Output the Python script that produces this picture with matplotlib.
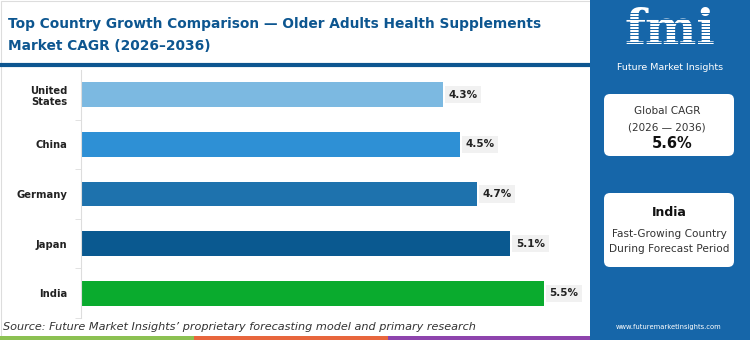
import matplotlib.pyplot as plt
from matplotlib.patches import FancyBboxPatch, Rectangle
import numpy as np

# data
countries = ['United\nStates', 'China', 'Germany', 'Japan', 'India']
cagr = [4.3, 4.5, 4.7, 5.1, 5.5]
bar_colors = ['#7cb9e1', '#2e90d5', '#1e72ad', '#0a5990', '#0aab2e']
global_cagr = '5.6%'
top_country = 'India'

W, H = 750, 340
navy = '#0d5690'
panel = '#1666a9'

fig = plt.figure(figsize=(W / 100, H / 100), dpi=100)
fig.patch.set_facecolor('white')

# overlay in pixel coords for the frame, panel and boxes
bg = fig.add_axes([0, 0, 1, 1], zorder=0)
bg.set_xlim(0, W)
bg.set_ylim(H, 0)
bg.axis('off')

bg.add_patch(Rectangle((0.5, 0.5), 590, 338, facecolor='white', edgecolor='#dddddd', lw=0.8))
bg.plot([0, 590], [65, 65], color=navy, lw=3, solid_capstyle='butt')
bg.add_patch(Rectangle((590, 0), W - 590, H, facecolor=panel, edgecolor='none'))

# bottom colour strip
bg.add_patch(Rectangle((0, 336), 194, 4, facecolor='#8cc152', edgecolor='none'))
bg.add_patch(Rectangle((194, 336), 194, 4, facecolor='#e8663d', edgecolor='none'))
bg.add_patch(Rectangle((388, 336), 202, 4, facecolor='#8e44ad', edgecolor='none'))

bg.text(8, 24, 'Top Country Growth Comparison \u2014 Older Adults Health Supplements',
        fontsize=9.9, fontweight='bold', color=navy, va='center', ha='left')
bg.text(8, 46, 'Market CAGR (2026\u20132036)',
        fontsize=9.9, fontweight='bold', color=navy, va='center', ha='left')

bg.text(3, 327, 'Source: Future Market Insights\u2019 proprietary forecasting model and primary research',
        fontsize=8.1, style='italic', color='#333333', va='center', ha='left')

# logo
bg.text(670, 31, 'fmi', fontsize=35, fontweight='bold', family='DejaVu Serif',
        color='white', ha='center', va='center')
for yy in np.arange(13, 52, 3.2):
    bg.plot([610, 730], [yy, yy], color=panel, lw=0.7, zorder=5)
bg.text(670, 67, 'Future Market Insights', fontsize=6.8, color='white', ha='center', va='center')

# info boxes
for y0, h in [(94, 62), (193, 74)]:
    bg.add_patch(FancyBboxPatch((604, y0), 130, h, boxstyle='round,pad=0,rounding_size=6',
                                facecolor='white', edgecolor='none', zorder=6))
bg.text(667, 111, 'Global CAGR', fontsize=7.5, color='#333333', ha='center', va='center', zorder=7)
bg.text(667, 127, '(2026 \u2014 2036)', fontsize=7.5, color='#333333', ha='center', va='center', zorder=7)
bg.text(672, 143, global_cagr, fontsize=10.5, fontweight='bold', color='#111111',
        ha='center', va='center', zorder=7)
bg.text(669, 212, top_country, fontsize=9, fontweight='bold', color='#111111',
        ha='center', va='center', zorder=7)
bg.text(669, 234, 'Fast-Growing Country', fontsize=7.6, color='#333333', ha='center', va='center', zorder=7)
bg.text(669, 249, 'During Forecast Period', fontsize=7.6, color='#333333', ha='center', va='center', zorder=7)
bg.text(669, 327, 'www.futuremarketinsights.com', fontsize=4.9, color='white', ha='center', va='center')

# bar chart
ax = fig.add_axes([81 / W, (H - 318) / H, 499 / W, 248 / H], zorder=2)
ax.patch.set_alpha(0)
y = np.arange(len(countries))
ax.barh(y, cagr, height=0.5, color=bar_colors)
ax.set_xlim(0, 499 / 84.2)
ax.set_ylim(len(countries) - 0.5, -0.5)
ax.set_yticks(y)
ax.set_yticklabels(countries, fontsize=7.2, fontweight='bold', color='#222222')
ax.tick_params(axis='y', length=0, pad=10)
ax.set_yticks(np.arange(len(countries)) + 0.5, minor=True)
ax.tick_params(axis='y', which='minor', length=4, color='#dddddd')
ax.set_xticks([])
for s in ['top', 'right', 'bottom']:
    ax.spines[s].set_visible(False)
ax.spines['left'].set_color('#dddddd')

for yi, v in zip(y, cagr):
    ax.annotate(f'{v}%', (v, yi), xytext=(4, 0), textcoords='offset points',
                ha='left', va='center', fontsize=7.5, fontweight='bold', color='#222222',
                bbox=dict(boxstyle='square,pad=0.35', facecolor='#f1f1f1', edgecolor='none'))

fig.savefig('out.png', dpi=100)
